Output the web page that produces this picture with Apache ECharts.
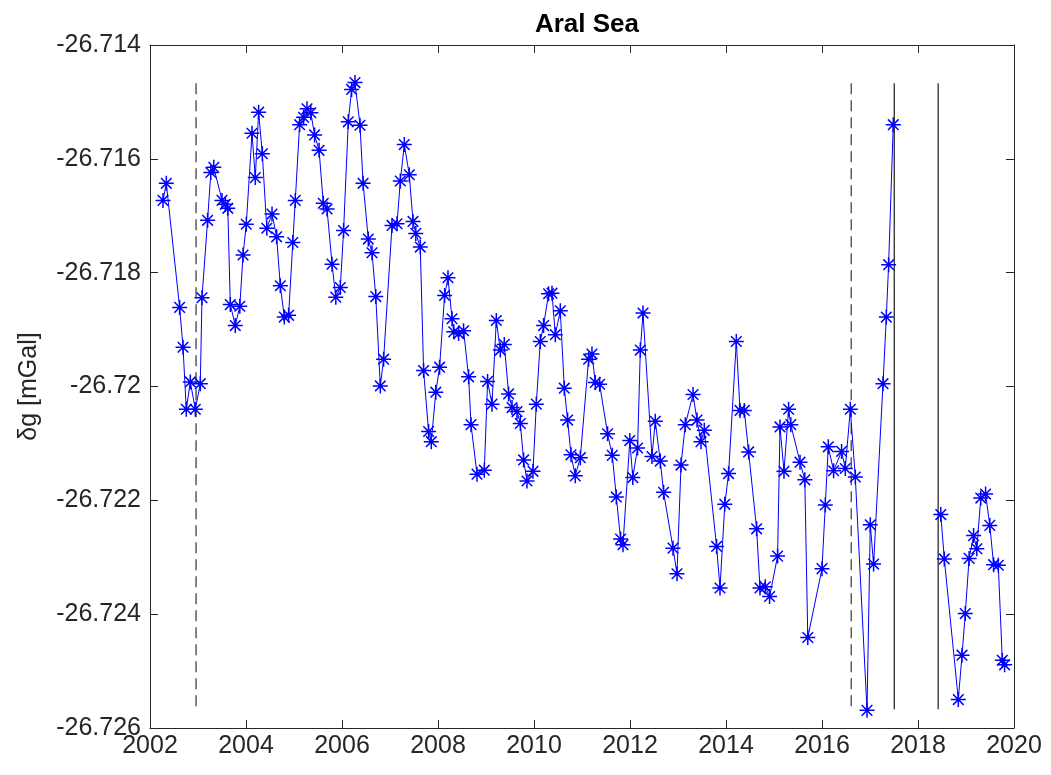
<!DOCTYPE html>
<html>
<head>
<meta charset="utf-8">
<script src="https://cdn.jsdelivr.net/npm/echarts@6/dist/echarts.min.js"></script>
<style>
html,body{margin:0;padding:0;background:#fff;}
#chart{width:1051px;height:775px;}
</style>
</head>
<body>
<div id="chart"></div>
<script>
// ---- data (time in decimal years, gravity anomaly in mGal) ----
const times = [
2002.271,2002.340,2002.617,2002.688,2002.756,2002.840,2002.944,2003.048,2003.083,2003.200,
2003.267,2003.329,2003.500,2003.569,2003.621,2003.673,2003.777,2003.871,2003.938,2004.006,
2004.125,2004.194,2004.263,2004.340,2004.433,2004.542,2004.638,2004.715,2004.798,2004.888,
2004.975,2005.027,2005.117,2005.200,2005.271,2005.350,2005.429,2005.523,2005.610,2005.688,
2005.792,2005.871,2005.965,2006.033,2006.131,2006.200,2006.271,2006.375,2006.440,2006.548,
2006.625,2006.704,2006.798,2006.867,2007.042,2007.146,2007.215,2007.298,2007.402,2007.479,
2007.538,2007.631,2007.700,2007.804,2007.860,2007.954,2008.033,2008.138,2008.208,2008.292,
2008.329,2008.429,2008.533,2008.638,2008.688,2008.813,2008.965,2009.033,2009.125,2009.215,
2009.298,2009.381,2009.471,2009.542,2009.646,2009.715,2009.783,2009.854,2009.979,2010.048,
2010.131,2010.200,2010.304,2010.375,2010.444,2010.548,2010.631,2010.700,2010.771,2010.860,
2010.965,2011.138,2011.208,2011.277,2011.367,2011.533,2011.631,2011.715,2011.804,2011.854,
2011.996,2012.058,2012.158,2012.215,2012.271,2012.458,2012.527,2012.631,2012.700,2012.896,
2012.979,2013.063,2013.152,2013.313,2013.396,2013.479,2013.548,2013.804,2013.875,2013.975,
2014.054,2014.215,2014.292,2014.381,2014.471,2014.638,2014.708,2014.819,2014.908,2015.075,
2015.125,2015.208,2015.304,2015.350,2015.542,2015.642,2015.704,2016.000,2016.069,2016.131,
2016.242,2016.408,2016.485,2016.590,2016.694,2016.938,2017.006,2017.075,2017.271,2017.340,
2017.388,2017.485,2018.000,2018.475,2018.548,2018.840,2018.917,2018.985,2019.065,2019.158,
2019.225,2019.308,2019.408,2019.496,2019.575,2019.673,2019.756,2019.804
];
const values = [
-26.71673,-26.71643,-26.71861,-26.71931,-26.72040,-26.71992,-26.72040,-26.71995,-26.71844,-26.71708,
-26.71624,-26.71615,-26.71673,-26.71680,-26.71687,-26.71856,-26.71893,-26.71859,-26.71769,-26.71715,
-26.71555,-26.71633,-26.71518,-26.71591,-26.71722,-26.71697,-26.71737,-26.71823,-26.71878,-26.71875,
-26.71747,-26.71673,-26.71540,-26.71527,-26.71512,-26.71519,-26.71558,-26.71585,-26.71678,-26.71688,
-26.71785,-26.71843,-26.71826,-26.71726,-26.71535,-26.71478,-26.71466,-26.71541,-26.71643,-26.71741,
-26.71765,-26.71842,-26.71999,-26.71952,-26.71717,-26.71714,-26.71639,-26.71575,-26.71628,-26.71710,
-26.71731,-26.71755,-26.71972,-26.72079,-26.72097,-26.72010,-26.71966,-26.71840,-26.71809,-26.71881,
-26.71904,-26.71907,-26.71902,-26.71983,-26.72067,-26.72154,-26.72147,-26.71991,-26.72031,-26.71884,
-26.71936,-26.71926,-26.72013,-26.72037,-26.72044,-26.72065,-26.72129,-26.72166,-26.72149,-26.72031,
-26.71921,-26.71893,-26.71837,-26.71836,-26.71909,-26.71867,-26.72003,-26.72059,-26.72120,-26.72157,
-26.72125,-26.71952,-26.71943,-26.71993,-26.71996,-26.72083,-26.72121,-26.72194,-26.72268,-26.72278,
-26.72095,-26.72160,-26.72108,-26.71936,-26.71871,-26.72123,-26.72061,-26.72131,-26.72186,-26.72284,
-26.72329,-26.72138,-26.72067,-26.72014,-26.72059,-26.72097,-26.72077,-26.72281,-26.72354,-26.72207,
-26.72153,-26.71921,-26.72042,-26.72042,-26.72115,-26.72250,-26.72354,-26.72352,-26.72369,-26.72298,
-26.72071,-26.72149,-26.72040,-26.72067,-26.72133,-26.72164,-26.72441,-26.72320,-26.72208,-26.72106,
-26.72148,-26.72114,-26.72144,-26.72040,-26.72159,-26.72569,-26.72243,-26.72312,-26.71995,-26.71878,
-26.71786,-26.71540,null,-26.72225,-26.72303,-26.72550,-26.72472,-26.72399,-26.72302,-26.72262,
-26.72285,-26.72196,-26.72189,-26.72244,-26.72313,-26.72314,-26.72481,-26.72489
];
// vertical marker lines (decimal years) and their vertical extent
const dashedLines = [2002.96, 2016.61];
const solidLines = [2017.505, 2018.42];
const vLineTop = -26.71467;
const vLineBottom = -26.72567;
const titleText = 'Aral Sea';
const yName = 'δg [mGal]';

// ---- build ----
const seriesData = times.map((t, i) => [t, values[i] === null ? '-' : values[i]]);
const asterisk = 'path://M0 9L20 9L20 11L0 11Z M9 0L11 0L11 20L9 20Z M3.64 2.22L17.78 16.36L16.36 17.78L2.22 3.64Z M16.36 2.22L17.78 3.64L3.64 17.78L2.22 16.36Z';

function vline(x, dashed) {
  return {
    type: 'line', data: [[x, vLineTop], [x, vLineBottom]],
    symbol: 'none', silent: true, animation: false, z: 1,
    lineStyle: dashed ? {color: '#5a5a5a', width: 1.5, type: [11, 6]} : {color: '#1a1a1a', width: 1.2}
  };
}

const fontFam = 'Liberation Sans, Arial, Helvetica, sans-serif';
const axisCol = '#262626';
const fmtY = v => parseFloat(Number(v).toFixed(3)).toString();
const fmtX = v => String(Math.round(v));

const chart = echarts.init(document.getElementById('chart'), null, {renderer: 'canvas'});
const option = {
  animation: false,
  backgroundColor: '#ffffff',
  title: {
    text: titleText, left: 582, top: 7, textAlign: 'center',
    textStyle: {fontFamily: fontFam, fontWeight: 'bold', fontSize: 26, color: '#000'}
  },
  grid: {left: 150, right: 37, top: 45, bottom: 47, containLabel: false},
  xAxis: [{
    type: 'value', min: 2002, max: 2020, interval: 2, position: 'bottom',
    axisLine: {show: true, lineStyle: {color: axisCol, width: 1}},
    axisTick: {show: true, inside: true, length: 8, lineStyle: {color: axisCol}},
    axisLabel: {show: true, color: axisCol, fontFamily: fontFam, fontSize: 25, margin: 6, formatter: fmtX},
    splitLine: {show: false}
  }, {
    type: 'value', min: 2002, max: 2020, interval: 2, position: 'top',
    axisLine: {show: true, onZero: false, lineStyle: {color: axisCol, width: 1}},
    axisTick: {show: true, inside: true, length: 8, lineStyle: {color: axisCol}},
    axisLabel: {show: false}, splitLine: {show: false}
  }],
  yAxis: [{
    type: 'value', min: -26.726, max: -26.714, interval: 0.002, position: 'left',
    name: yName, nameLocation: 'middle', nameGap: 108, nameRotate: 90,
    nameTextStyle: {fontFamily: fontFam, fontSize: 25, color: axisCol},
    axisLine: {show: true, onZero: false, lineStyle: {color: axisCol, width: 1}},
    axisTick: {show: true, inside: true, length: 8, lineStyle: {color: axisCol}},
    axisLabel: {show: true, color: axisCol, fontFamily: fontFam, fontSize: 25, margin: 9, formatter: fmtY},
    splitLine: {show: false}
  }, {
    type: 'value', min: -26.726, max: -26.714, interval: 0.002, position: 'right',
    axisLine: {show: true, onZero: false, lineStyle: {color: axisCol, width: 1}},
    axisTick: {show: true, inside: true, length: 8, lineStyle: {color: axisCol}},
    axisLabel: {show: false}, splitLine: {show: false}
  }],
  series: [
    ...dashedLines.map(x => vline(x, true)),
    ...solidLines.map(x => vline(x, false)),
    {
      type: 'line', data: seriesData, connectNulls: false,
      symbol: asterisk, symbolSize: 15, showAllSymbol: true, z: 3,
      lineStyle: {color: '#0000ff', width: 1},
      itemStyle: {color: '#0000ff', borderWidth: 0}
    }
  ]
};
chart.setOption(option);
</script>
</body>
</html>
